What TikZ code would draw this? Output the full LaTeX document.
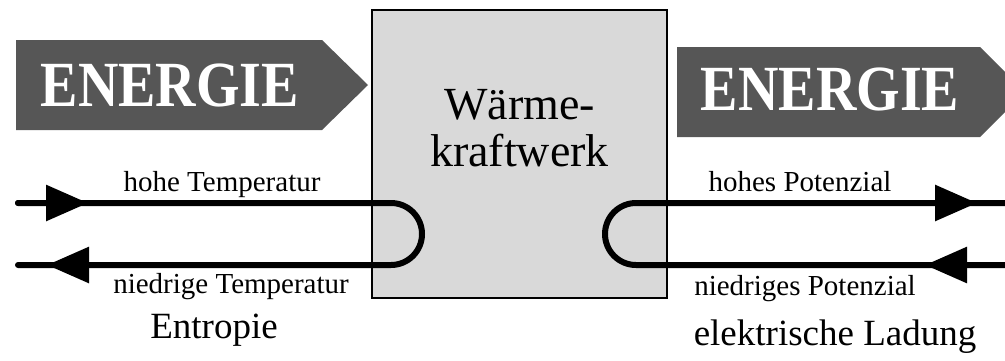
\documentclass[tikz,border=0pt]{standalone}
\usepackage{fontspec}
\setmainfont{Liberation Serif}
\usepackage{tikz}
\usetikzlibrary{arrows.meta,positioning,calc}
\definecolor{bannergray}{HTML}{565656}
\definecolor{boxgray}{HTML}{D9D9D9}
\tikzset{
  >={Triangle[length=21pt,width=17.5pt]},
  plant/.style={draw=black,line width=1pt,fill=boxgray,minimum width=147.5pt,minimum height=144pt,inner sep=0pt},
  plantlab/.style={font=\fontsize{23}{23.5}\selectfont,align=center},
  flow/.style={line width=3pt,line cap=round},
  lab/.style={font=\fontsize{14.5}{17}\selectfont,anchor=base,inner sep=0pt},
  qty/.style={font=\fontsize{18.5}{22}\selectfont,anchor=base,inner sep=0pt},
  banner/.style={fill=bannergray},
  bannertext/.style={font=\bfseries\fontsize{28}{30}\selectfont,text=white,yscale=1.15},
}
\begin{document}
\begin{tikzpicture}[x=0.5pt,y=0.5pt]
\useasboundingbox (0,0) rectangle (1005,360);
\clip (0,0) rectangle (1005,360);
% energy banners
\fill[banner] (16,230) -- (16,320) -- (322,320) -- (368,275) -- (322,230) -- cycle;
\fill[banner] (677,223) -- (677,313) -- (980,313) -- (1025,268) -- (980,223) -- cycle;
\node[bannertext] (ein) at (170,275) {ENERGIE};
\node[bannertext] (eout) at (830,271) {ENERGIE};
% power plant
\node[plant] (plant) at (519.5,206) {};
\node[plantlab] (plantname) at (519.5,232) {Wärme-\\kraftwerk};
% entropy loop
\coordinate (sin) at (18,157);
\coordinate (sinhead) at (88,157);
\coordinate (sloop) at (391,157);
\coordinate (southead) at (47,95);
\coordinate (sout) at (18,95);
\draw[flow] (sin) -- (sloop) arc[start angle=90,end angle=-90,radius=31] -- (sout);
\draw[flow,->] (sin) -- (sinhead);
\draw[flow,->] ($(southead)+(60,0)$) -- (southead);
% charge loop
\coordinate (qin) at (1005,95);
\coordinate (qinhead) at (925,95);
\coordinate (qloop) at (636,95);
\coordinate (qouthead) at (977,157);
\coordinate (qout) at (1005,157);
\draw[flow] (qin) -- (qloop) arc[start angle=-90,end angle=-270,radius=31] -- (qout);
\draw[flow,->] (qin) -- (qinhead);
\draw[flow,->] ($(qouthead)+(-60,0)$) -- (qouthead);
% labels
\node[lab] (thigh) at (222,169) {hohe Temperatur};
\node[lab] (tlow) at (231,67) {niedrige Temperatur};
\node[qty] (entropy) at (214,22) {Entropie};
\node[lab] (phigh) at (800,169) {hohes Potenzial};
\node[lab] (plow) at (805,65) {niedriges Potenzial};
\node[qty] (charge) at (835,15) {elektrische Ladung};
\end{tikzpicture}
\end{document}
